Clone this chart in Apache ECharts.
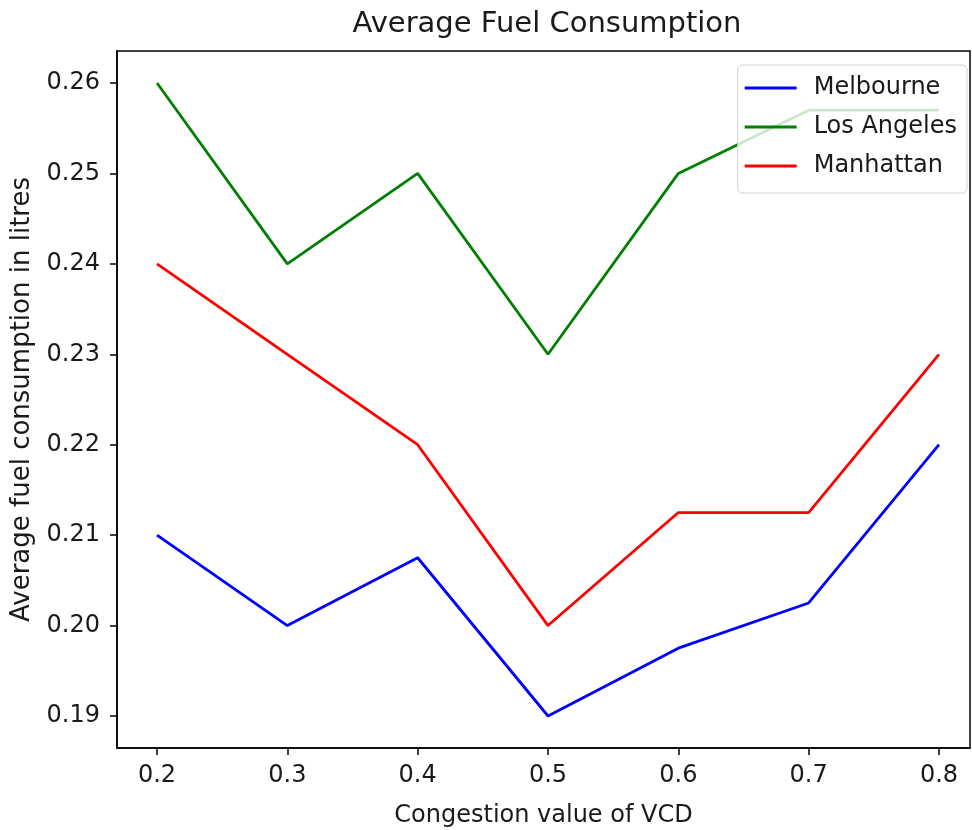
<!DOCTYPE html>
<html>
<head>
<meta charset="utf-8">
<script src="https://cdn.jsdelivr.net/npm/echarts@6/dist/echarts.min.js"></script>
<style>html,body{margin:0;padding:0;background:#fff;}#c{width:972px;height:830px;}</style>
</head>
<body>
<div id="c"></div>
<script>
const xValues = [0.2, 0.3, 0.4, 0.5, 0.6, 0.7, 0.8];
const melbourne = [0.21, 0.20, 0.2075, 0.19, 0.1975, 0.2025, 0.22];
const losAngeles = [0.26, 0.24, 0.25, 0.23, 0.25, 0.257, 0.257];
const manhattan = [0.24, 0.23, 0.22, 0.20, 0.2125, 0.2125, 0.23];
const xTicks = [0.2, 0.3, 0.4, 0.5, 0.6, 0.7, 0.8];
const yTicks = [0.19, 0.20, 0.21, 0.22, 0.23, 0.24, 0.25, 0.26];

const font = 'DejaVu Sans';
const txt = '#1a1a1a';
const pair = arr => xValues.map((x, i) => [x, arr[i]]);
const mk = (name, data, color) => ({
  name, type: 'line', data: pair(data), symbol: 'none', showSymbol: false,
  lineStyle: { color, width: 2.8 }, itemStyle: { color },
  animation: false
});

const chart = echarts.init(document.getElementById('c'), null, { renderer: 'canvas' });
chart.setOption({
  backgroundColor: '#fff',
  animation: false,
  title: {
    text: 'Average Fuel Consumption', left: 542, top: 5, textAlign: 'center',
    textStyle: { fontFamily: font, fontSize: 29, fontWeight: 'normal', color: txt }
  },
  grid: { left: 117, right: 2, top: 51, bottom: 82, show: true, borderColor: '#000', borderWidth: 1.5, backgroundColor: 'transparent', outerBoundsMode: 'none', containLabel: false },
  legend: {
    orient: 'vertical', right: 5, top: 65,
    icon: 'rect', itemWidth: 52, itemHeight: 3, itemGap: 15,
    backgroundColor: 'rgba(255,255,255,0.8)', borderColor: '#d0d0d0', borderWidth: 1, borderRadius: 5,
    padding: [11, 10, 15, 7],
    textStyle: { fontFamily: font, fontSize: 24, color: txt, padding: [0, 0, 0, 12] },
    data: ['Melbourne', 'Los Angeles', 'Manhattan']
  },
  xAxis: {
    type: 'value', min: 0.1693, max: 0.8238,
    name: 'Congestion value of VCD', nameLocation: 'middle', nameGap: 56,
    nameTextStyle: { fontFamily: font, fontSize: 24, color: txt },
    axisLine: { show: true, lineStyle: { color: '#000', width: 1.5 } },
    axisTick: { show: true, length: 7, lineStyle: { color: '#000', width: 1.5 }, customValues: xTicks },
    axisLabel: { fontFamily: font, fontSize: 24, color: txt, margin: 16, customValues: xTicks, formatter: v => v.toFixed(1) },
    splitLine: { show: false }
  },
  yAxis: {
    type: 'value', min: 0.18646, max: 0.26354,
    name: 'Average fuel consumption in litres', nameLocation: 'middle', nameGap: 82,
    nameTextStyle: { fontFamily: font, fontSize: 26, color: txt },
    axisLine: { show: true, lineStyle: { color: '#000', width: 1.5 } },
    axisTick: { show: true, length: 7, lineStyle: { color: '#000', width: 1.5 }, customValues: yTicks },
    axisLabel: { fontFamily: font, fontSize: 24, color: txt, margin: 17, customValues: yTicks, formatter: v => v.toFixed(2) },
    splitLine: { show: false }
  },
  series: [
    mk('Melbourne', melbourne, '#0000ff'),
    mk('Los Angeles', losAngeles, '#008000'),
    mk('Manhattan', manhattan, '#ff0000')
  ]
});
</script>
</body>
</html>
